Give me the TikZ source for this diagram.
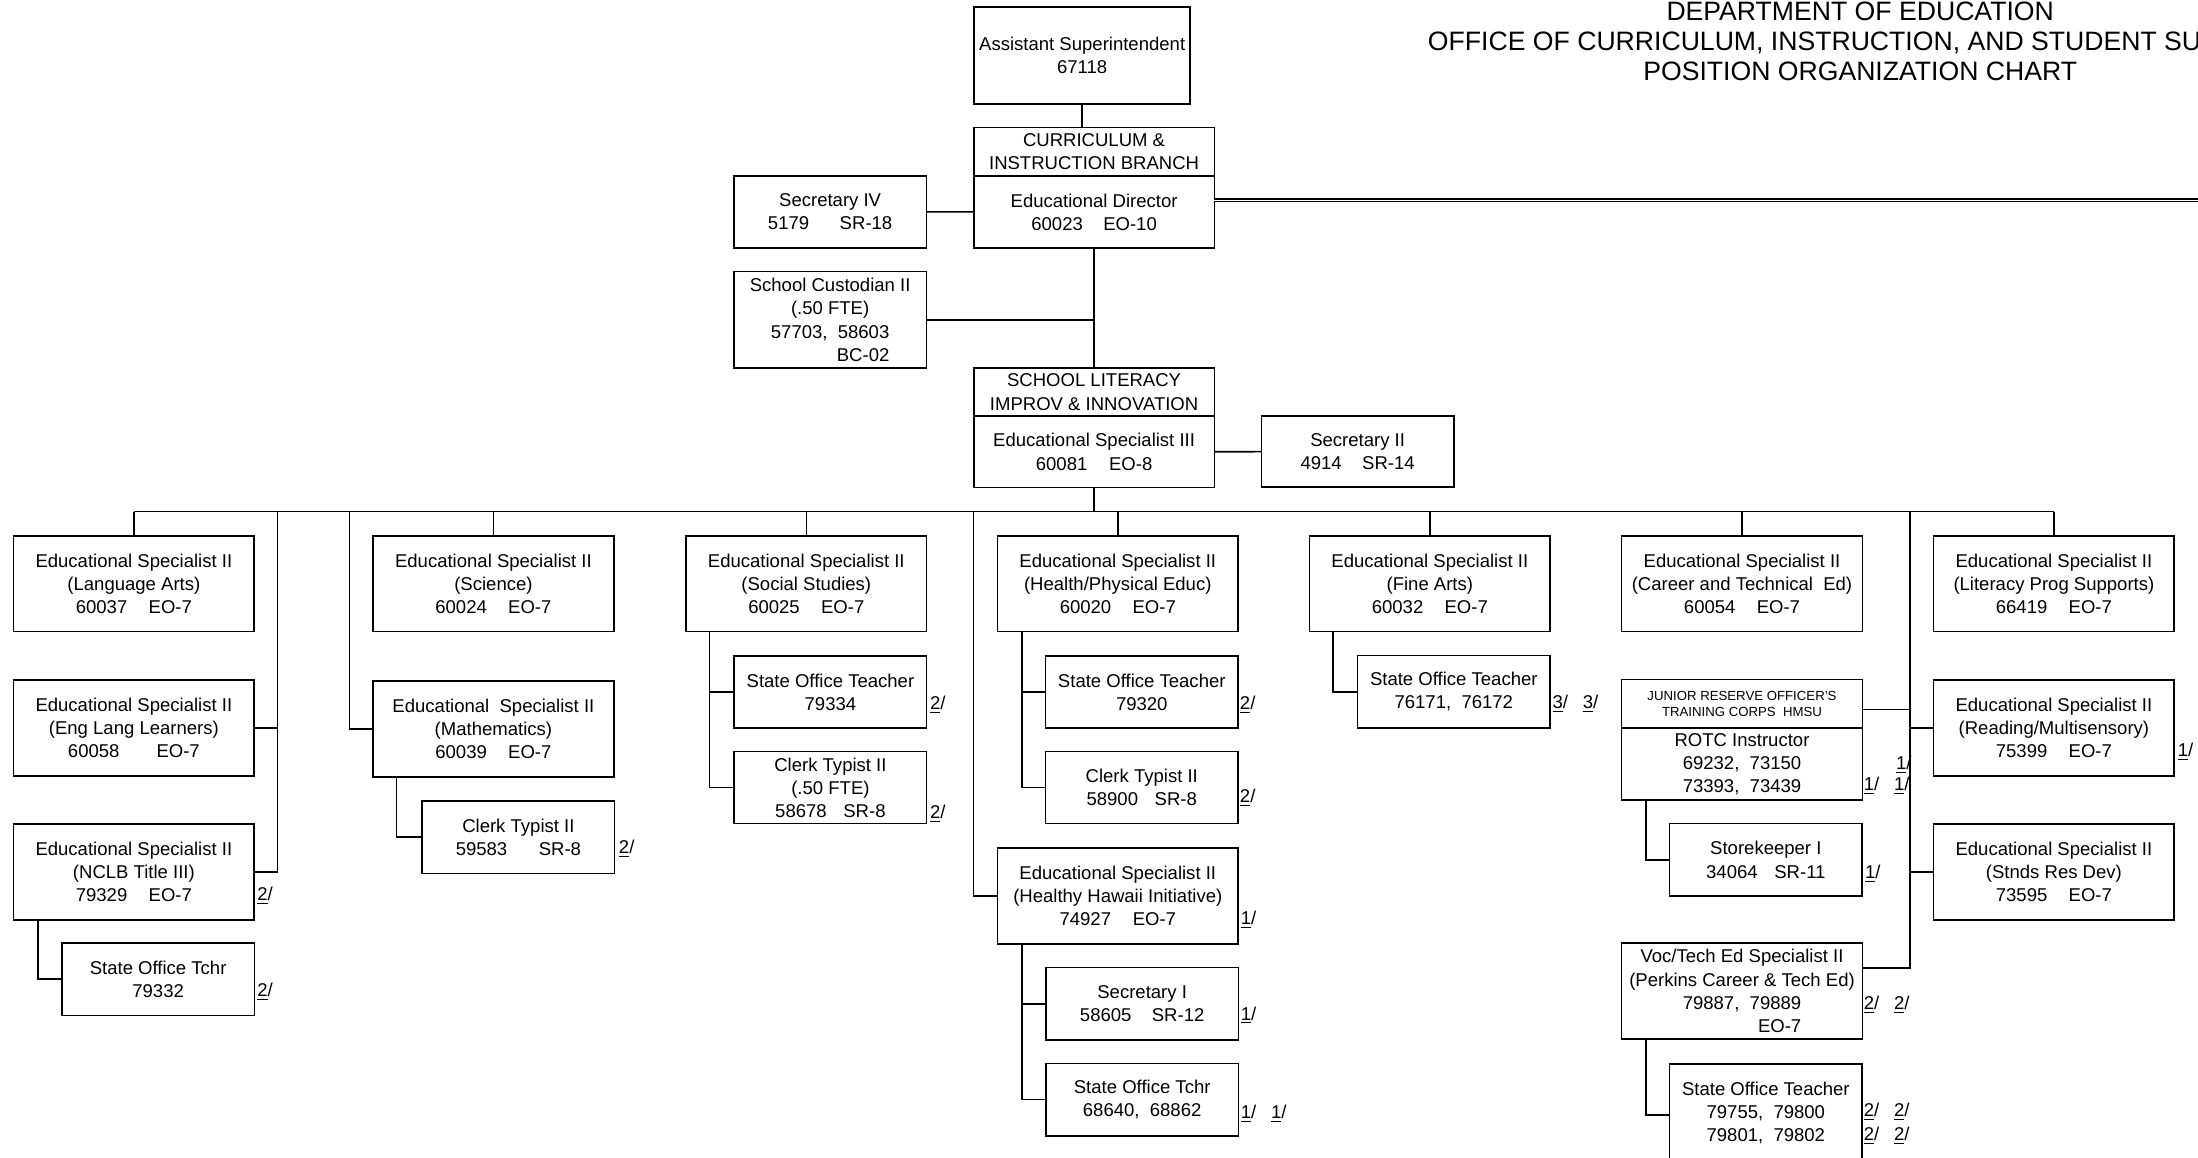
\documentclass[tikz,border=0pt]{standalone}
\usepackage{fontspec}
\setmainfont{Liberation Sans}
\usetikzlibrary{calc,positioning}
\newcommand{\fnm}[1]{\underline{#1}/}

\begin{document}
\begin{tikzpicture}[x=0.025cm,y=-0.025cm,line width=0.8pt,
    posbox/.style={draw,outer sep=0pt,inner sep=1pt,align=center,font={\fontsize{9.4}{11.74}\selectfont}},
    wide/.style={posbox,minimum width=4.29cm},
    slim/.style={posbox,minimum width=3.43cm},
    three/.style={minimum height=1.71cm},
    two/.style={minimum height=1.29cm},
    hdr/.style={minimum height=0.86cm},
    fnote/.style={anchor=base west,inner sep=0pt,font={\fontsize{9.4}{11.74}\selectfont}}]
\useasboundingbox (0,0) rectangle (1568,826);
\clip (0,0) rectangle (1568,826);

\node[align=center,font={\fontsize{13.5}{15.2}\selectfont}] (title) at (1327,29.5) {DEPARTMENT OF EDUCATION\\OFFICE OF CURRICULUM, INSTRUCTION, AND STUDENT SUPPORT\\POSITION ORGANIZATION CHART};

% top of the chart
\node[posbox,minimum width=3.85cm,minimum height=1.725cm] (asst) at (772,39.7) {Assistant Superintendent\\67118};
\node[wide,hdr] (curH) at (780.5,108.2) {CURRICULUM \&\\INSTRUCTION BRANCH};
\node[wide,two,below=0pt of curH] (curB) {Educational Director\\60023\hspace{1.1em}EO-10};
\node[slim,two] (sec4) at (592.2,151.2) {Secretary IV\\5179\hspace{1.65em}SR-18};
\node[slim,minimum height=1.72cm] (cust) at (592.2,228.2) {School Custodian II\\(.50 FTE)\\57703,~~58603\\\hphantom{57703,~~58603}\llap{BC-02}};
\node[wide,hdr] (litH) at (780.5,279.7) {SCHOOL LITERACY\\IMPROV \& INNOVATION};
\node[wide,minimum height=1.27cm,below=0pt of litH] (litB) {Educational Specialist III\\60081\hspace{1.17em}EO-8};
\node[slim,minimum height=1.27cm] (sec2) at (968.5,322.2) {Secretary II\\4914\hspace{1.1em}SR-14};
\coordinate (offR) at (1568,142.7);
\coordinate (bus) at (780.5,365);

\draw (asst.south) -- (asst.south |- curH.north);
\draw (sec4) -- (curB);
\draw (curB) -- (litH);
\draw (cust.east) -- (cust.east -| curB.south);
\draw (litB) -- (sec2);
\draw[line width=0.6pt,double,double distance=0.4pt] (curB.east |- offR) -- (offR);

% first row
\node[wide,three] (langA) at (95.5,416.4) {Educational Specialist II\\(Language Arts)\\60037\hspace{1.15em}EO-7};
\node[wide,three] (sci) at (352,416.4) {Educational Specialist II\\(Science)\\60024\hspace{1.15em}EO-7};
\node[wide,three] (soc) at (575.2,416.4) {Educational Specialist II\\(Social Studies)\\60025\hspace{1.15em}EO-7};
\node[wide,three] (health) at (797.4,416.4) {Educational Specialist II\\(Health/Physical Educ)\\60020\hspace{1.15em}EO-7};
\node[wide,three] (fine) at (1020,416.4) {Educational Specialist II\\(Fine Arts)\\60032\hspace{1.15em}EO-7};
\node[wide,three] (career) at (1242.7,416.4) {Educational Specialist II\\(Career and Technical~~Ed)\\60054\hspace{1.15em}EO-7};
\node[wide,three] (litprog) at (1465.2,416.4) {Educational Specialist II\\(Literacy Prog Supports)\\66419\hspace{1.15em}EO-7};

% lower boxes
\node[wide,three] (engL) at (95.5,519.3) {Educational Specialist II\\(Eng Lang Learners)\\60058\hspace{2em}EO-7};
\node[wide,three] (nclb) at (95.5,622) {Educational Specialist II\\(NCLB Title III)\\79329\hspace{1.15em}EO-7};
\node[slim,two] (sotN) at (112.8,698.5) {State Office Tchr\\79332};
\node[wide,three] (math) at (352,520.2) {Educational~~Specialist II\\(Mathematics)\\60039\hspace{1.15em}EO-7};
\node[slim,two] (ctM) at (369.8,597.2) {Clerk Typist II\\59583\hspace{1.7em}SR-8};
\node[slim,two] (sotS) at (592.4,493.7) {State Office Teacher\\79334};
\node[slim,two] (ctS) at (592.4,561.8) {Clerk Typist II\\(.50 FTE)\\58678\hspace{0.9em}SR-8};
\node[slim,two] (sotH) at (814.5,493.7) {State Office Teacher\\79320};
\node[slim,two] (ctH) at (814.5,561.8) {Clerk Typist II\\58900\hspace{0.9em}SR-8};
\node[wide,three] (hhi) at (797.4,639.3) {Educational Specialist II\\(Healthy Hawaii Initiative)\\74927\hspace{1.17em}EO-7};
\node[slim,two] (secI) at (814.8,716.1) {Secretary I\\58605\hspace{1.1em}SR-12};
\node[slim,two] (sotT) at (814.8,784.5) {State Office Tchr\\68640,~~68862};
\node[slim,two] (sotF) at (1037.1,493.5) {State Office Teacher\\76171,~~76172};
\node[wide,hdr,font={\fontsize{6.7}{8.1}\selectfont}] (jrH) at (1242.7,502) {JUNIOR RESERVE OFFICER'S\\TRAINING CORPS~~HMSU};
\node[wide,two,below=0pt of jrH] (jrB) {ROTC Instructor\\69232,~~73150\\73393,~~73439};
\node[slim,two] (store) at (1259.7,613.4) {Storekeeper I\\34064\hspace{0.9em}SR-11};
\node[wide,three] (voc) at (1242.7,707) {Voc/Tech Ed Specialist II\\(Perkins Career \& Tech Ed)\\79887,~~79889\\\hphantom{79887,~~79889}\llap{EO-7}};
\node[slim,minimum height=1.76cm] (sotV) at (1259.7,794.2) {State Office Teacher\\79755,~~79800\\79801,~~79802};
\node[wide,three] (read) at (1465.2,519.3) {Educational Specialist II\\(Reading/Multisensory)\\75399\hspace{1.15em}EO-7};
\node[wide,three] (stnd) at (1465.2,622) {Educational Specialist II\\(Stnds Res Dev)\\73595\hspace{1.15em}EO-7};

% bus and drops
\coordinate (spA) at (198,365);
\coordinate (spB) at (249.4,365);
\coordinate (spC) at (694.6,365);
\coordinate (spD) at (1362.6,365);
\draw (litB.south) -- (bus);
\draw (langA.north |- bus) -- (litprog.north |- bus);
\draw (langA.north) -- (langA.north |- bus);
\draw (sci.north) -- (sci.north |- bus);
\draw (soc.north) -- (soc.north |- bus);
\draw (health.north) -- (health.north |- bus);
\draw (fine.north) -- (fine.north |- bus);
\draw (career.north) -- (career.north |- bus);
\draw (litprog.north) -- (litprog.north |- bus);
\draw (spA) |- (nclb.east);
\draw (engL.east) -- (engL.east -| spA);
\draw (spB) |- (math.west);
\draw (spC) |- (hhi.west);
\draw (spD) |- ([yshift=-4.45mm]voc.north east);
\draw ([yshift=-1mm]jrH.east) -- ([yshift=-1mm]jrH.east -| spD);
\draw (read.west -| spD) -- (read.west);
\draw (stnd.west -| spD) -- (stnd.west);

% under the boxes
\draw ([xshift=4.35mm]nclb.south west) |- (sotN.west);
\draw ([xshift=4.2mm]math.south west) |- (ctM.west);
\draw ([xshift=4.2mm]soc.south west) coordinate (socV) |- (ctS.west);
\draw (sotS.west) -- (sotS.west -| socV);
\draw ([xshift=4.4mm]health.south west) coordinate (healthV) |- (ctH.west);
\draw (sotH.west) -- (sotH.west -| healthV);
\draw ([xshift=4.4mm]hhi.south west) coordinate (hhiV) |- (sotT.west);
\draw (secI.west) -- (secI.west -| hhiV);
\draw ([xshift=4.2mm]fine.south west) |- (sotF.west);
\draw ([xshift=4.3mm]jrB.south west) |- (store.west);
\draw ([xshift=4.3mm]voc.south west) |- ([yshift=-0.3mm]sotV.west);

% notes
\node[fnote] (fnNclb) at (183,642.2) {\fnm2};
\node[fnote] (fnSotN) at (183,710.9) {\fnm2};
\node[fnote] (fnCtM) at (441,608.7) {\fnm2};
\node[fnote] (fnSotS) at (663,506) {\fnm2};
\node[fnote] (fnCtS) at (663,583.7) {\fnm2};
\node[fnote] (fnSotH) at (884,506) {\fnm2};
\node[fnote] (fnCtH) at (884,572.7) {\fnm2};
\node[fnote] (fnHhi) at (884.6,659.7) {\fnm1};
\node[fnote] (fnSecI) at (884.6,727.7) {\fnm1};
\node[fnote] (fnSotT) at (884.6,797.7) {\fnm1\hspace{.8em}\fnm1};
\node[fnote] (fnSotF) at (1107,505.2) {\fnm3\hspace{.8em}\fnm3};
\node[fnote] (fnJrA) at (1352,548.7) {\fnm1};
\node[fnote] (fnJrB) at (1329,564.2) {\fnm1\hspace{.8em}\fnm1};
\node[fnote] (fnStore) at (1330,626.5) {\fnm1};
\node[fnote] (fnVoc) at (1329,720.4) {\fnm2\hspace{.8em}\fnm2};
\node[fnote] (fnSotVa) at (1329,796.7) {\fnm2\hspace{.8em}\fnm2};
\node[fnote] (fnSotVb) at (1329,813.7) {\fnm2\hspace{.8em}\fnm2};
\node[fnote] (fnRead) at (1553,539.7) {\fnm1};
\end{tikzpicture}
\end{document}
